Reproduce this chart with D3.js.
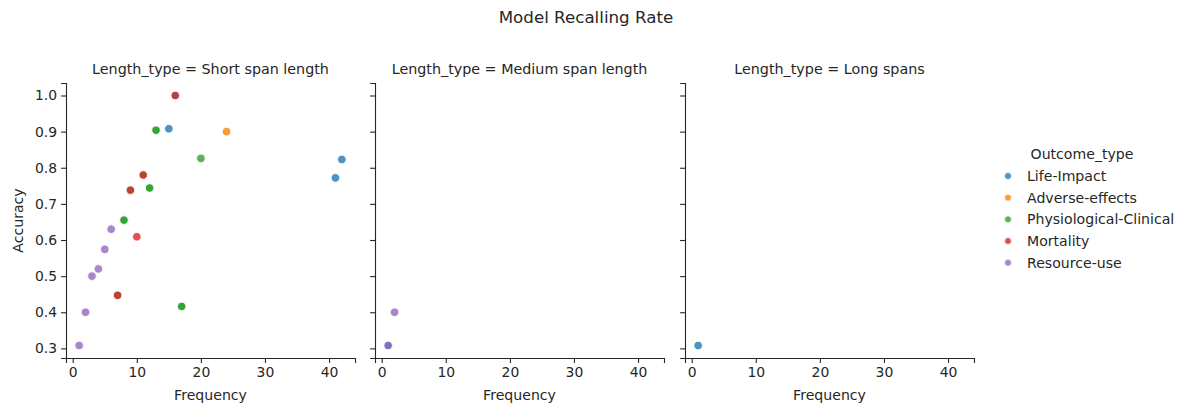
<!DOCTYPE html>
<html>
<head>
<meta charset="utf-8">
<script src="https://cdn.jsdelivr.net/npm/d3@7"></script>
<style>
  html, body { margin: 0; padding: 0; background: #fff; }
  svg text { font-family: "DejaVu Sans", sans-serif; fill: #262626; }
</style>
</head>
<body>
<svg id="chart" width="1183" height="405"></svg>
<script>
// ---- data ----
const chartTitle = "Model Recalling Rate";
const facetKey = "Length_type";
const lengthTypes = ["Short span length", "Medium span length", "Long spans"];
const outcomeTypes = ["Life-Impact", "Adverse-effects", "Physiological-Clinical", "Mortality", "Resource-use"];
const outcomeColors = ["#1f77b4", "#ff7f0e", "#2ca02c", "#d62728", "#9467bd"];
const xTicks = [0, 10, 20, 30, 40];
const yTicks = [0.3, 0.4, 0.5, 0.6, 0.7, 0.8, 0.9, 1.0];

// one entry per observation, in drawing order
const pointLength = [
  0, 0, 0, 0, 0, 0, 0, 0,
  0, 0, 0, 0,
  0, 0, 0, 0, 0,
  0, 0, 0, 0, 0,
  0, 0, 0, 0, 0, 0,
  1, 1, 1,
  2
];
const pointOutcome = [
  "Life-Impact", "Physiological-Clinical", "Physiological-Clinical", "Physiological-Clinical",
  "Physiological-Clinical", "Physiological-Clinical", "Physiological-Clinical", "Physiological-Clinical",
  "Life-Impact", "Life-Impact", "Life-Impact", "Adverse-effects",
  "Physiological-Clinical", "Physiological-Clinical", "Physiological-Clinical", "Physiological-Clinical", "Physiological-Clinical",
  "Mortality", "Mortality", "Mortality", "Mortality", "Mortality",
  "Resource-use", "Resource-use", "Resource-use", "Resource-use", "Resource-use", "Resource-use",
  "Life-Impact", "Resource-use", "Resource-use",
  "Life-Impact"
];
const frequency = [
  16, 7, 9, 11, 13, 12, 8, 17,
  15, 42, 41, 24,
  13, 20, 12, 8, 17,
  16, 11, 9, 10, 7,
  1, 2, 3, 4, 5, 6,
  1, 1, 2,
  1
];
const accuracy = [
  1.0, 0.447, 0.738, 0.78, 0.904, 0.744, 0.655, 0.416,
  0.908, 0.823, 0.772, 0.9,
  0.904, 0.826, 0.744, 0.655, 0.416,
  1.0, 0.78, 0.738, 0.609, 0.447,
  0.308, 0.4, 0.5, 0.52, 0.574, 0.63,
  0.308, 0.308, 0.4,
  0.308
];

// ---- layout ----
const svg = d3.select("#chart");
const panelLeft = [66, 375, 685];
const panelW = 289;
const plotTop = 83, plotBottom = 358;

const points = frequency.map((f, i) => ({
  f, a: accuracy[i], len: pointLength[i], out: pointOutcome[i]
}));

const fExt = d3.extent(frequency), aExt = d3.extent(accuracy);
const fPad = (fExt[1] - fExt[0]) * 0.05, aPad = (aExt[1] - aExt[0]) * 0.05;
const color = d3.scaleOrdinal().domain(outcomeTypes).range(outcomeColors);
const y = d3.scaleLinear().domain([aExt[0] - aPad, aExt[1] + aPad]).range([plotBottom, plotTop]);

svg.append("text")
  .attr("x", 586).attr("y", 17)
  .attr("text-anchor", "middle").attr("dominant-baseline", "central")
  .style("font-size", "16.7px")
  .text(chartTitle);

lengthTypes.forEach((lt, k) => {
  const x0 = panelLeft[k];
  const x = d3.scaleLinear().domain([fExt[0] - fPad, fExt[1] + fPad]).range([x0, x0 + panelW]);
  const g = svg.append("g");

  const xa = g.append("g").attr("transform", `translate(0,${plotBottom})`)
    .call(d3.axisBottom(x).tickValues(xTicks).tickFormat(d3.format("d")).tickSizeOuter(0).tickSize(4.9).tickPadding(4));
  const ya = g.append("g").attr("transform", `translate(${x0},0)`)
    .call(d3.axisLeft(y).tickValues(yTicks).tickFormat(k === 0 ? d3.format(".1f") : () => "").tickSizeOuter(0).tickSize(4.9).tickPadding(4));
  [xa, ya].forEach(a => {
    a.select(".domain").attr("stroke", "#262626").attr("stroke-width", 1.1);
    a.selectAll(".tick line").attr("stroke", "#262626").attr("stroke-width", 1.1);
    a.selectAll(".tick text").style("font-size", "13.9px").attr("fill", "#262626").style("font-family", "DejaVu Sans");
  });

  g.append("text")
    .attr("x", x0 + panelW / 2).attr("y", 69)
    .attr("text-anchor", "middle").attr("dominant-baseline", "central")
    .style("font-size", "14.3px")
    .text(`${facetKey} = ${lt}`);

  g.append("text")
    .attr("x", x0 + panelW / 2).attr("y", 395)
    .attr("text-anchor", "middle").attr("dominant-baseline", "central")
    .style("font-size", "14.1px")
    .text("Frequency");

  g.append("g").selectAll("circle")
    .data(points.filter(p => p.len === k))
    .join("circle")
    .attr("cx", d => x(d.f))
    .attr("cy", d => y(d.a))
    .attr("r", 4.3)
    .attr("fill", d => color(d.out))
    .attr("fill-opacity", 0.8)
    .attr("stroke", "#fff")
    .attr("stroke-width", 0.9);
});

svg.append("text")
  .attr("transform", `translate(18,${(plotTop + plotBottom) / 2}) rotate(-90)`)
  .attr("text-anchor", "middle").attr("dominant-baseline", "central")
  .style("font-size", "14.1px")
  .text("Accuracy");

const lg = svg.append("g");
lg.append("text")
  .attr("x", 1082).attr("y", 154)
  .attr("text-anchor", "middle").attr("dominant-baseline", "central")
  .style("font-size", "14.1px")
  .text("Outcome_type");
const legendY = [176, 197.7, 219.3, 241, 262.7];
outcomeTypes.forEach((o, i) => {
  lg.append("circle")
    .attr("cx", 1008).attr("cy", legendY[i]).attr("r", 3.4)
    .attr("fill", color(o)).attr("fill-opacity", 0.8)
    .attr("stroke", "#fff").attr("stroke-width", 0.7);
  lg.append("text")
    .attr("x", 1027).attr("y", legendY[i])
    .attr("dominant-baseline", "central")
    .style("font-size", "14.1px")
    .text(o);
});
</script>
</body>
</html>
